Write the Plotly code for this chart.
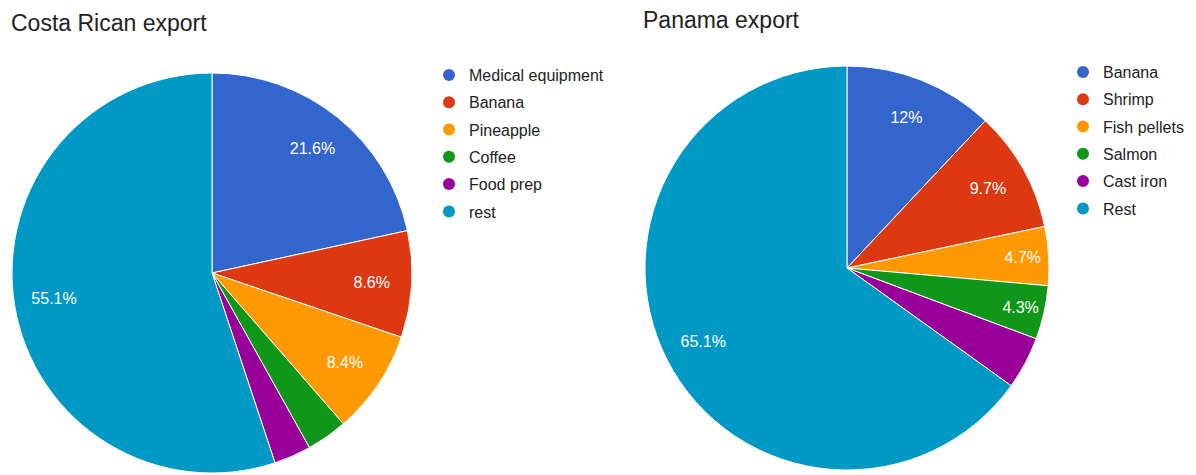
import plotly.graph_objects as go

# Export shares (percent of total exports)
cr_labels = ["Medical equipment", "Banana", "Pineapple", "Coffee", "Food prep", "rest"]
cr_values = [21.6, 8.6, 8.4, 3.3, 3.0, 55.1]

pa_labels = ["Banana", "Shrimp", "Fish pellets", "Salmon", "Cast iron", "Rest"]
pa_values = [12.0, 9.7, 4.7, 4.3, 4.2, 65.1]

palette = ["#3366cc", "#dc3912", "#ff9900", "#109618", "#990099", "#0099c6"]

W, H = 1196, 475
FONT = "Arial, Liberation Sans, sans-serif"
TEXT = "#222222"

# Slices too thin to hold a label stay unlabeled
MIN_LABEL = 4.25


def templates(values):
    return ["%{percent}" if v >= MIN_LABEL else "" for v in values]


def px_x(a, b):
    return [a / W, b / W]


def px_y(top, bottom):
    return [1 - bottom / H, 1 - top / H]


def add_pie(fig, labels, values, domain):
    # solid slices
    fig.add_trace(go.Pie(
        labels=labels, values=values, sort=False, direction="clockwise",
        rotation=0, marker=dict(colors=palette, line=dict(color="white", width=1)),
        textinfo="none", domain=domain, showlegend=False,
        hoverinfo="label+percent",
    ))
    # percentage labels, set in the outer ring of the same pie
    fig.add_trace(go.Pie(
        labels=labels, values=values, sort=False, direction="clockwise",
        rotation=0, hole=0.6,
        marker=dict(colors=["rgba(0,0,0,0)"] * len(values),
                    line=dict(width=0)),
        texttemplate=templates(values), textposition="inside",
        insidetextorientation="horizontal",
        textfont=dict(color="white", size=16, family=FONT),
        domain=domain, showlegend=False, hoverinfo="skip",
    ))


fig = go.Figure()
add_pie(fig, cr_labels, cr_values, dict(x=px_x(12, 412), y=px_y(73, 473)))
add_pie(fig, pa_labels, pa_values, dict(x=px_x(645, 1049), y=px_y(66, 470)))

# Round legend markers via empty scatter entries
for lbl, col in zip(cr_labels, palette):
    fig.add_trace(go.Scatter(
        x=[None], y=[None], mode="markers", name=lbl, legend="legend",
        legendgroup="cr_" + lbl,
        marker=dict(color=col, size=14, symbol="circle"),
    ))
for lbl, col in zip(pa_labels, palette):
    fig.add_trace(go.Scatter(
        x=[None], y=[None], mode="markers", name=lbl, legend="legend2",
        legendgroup="pa_" + lbl,
        marker=dict(color=col, size=14, symbol="circle"),
    ))

legend_style = dict(
    font=dict(family=FONT, size=16, color=TEXT), bgcolor="rgba(0,0,0,0)",
    traceorder="grouped", tracegroupgap=3.5, yanchor="top", xanchor="left",
    itemsizing="constant",
)

fig.update_layout(
    width=W, height=H,
    margin=dict(l=0, r=0, t=0, b=0),
    paper_bgcolor="white", plot_bgcolor="white",
    xaxis=dict(visible=False), yaxis=dict(visible=False),
    legend=dict(x=(469 - 40) / W, y=1 - 58 / H, **legend_style),
    legend2=dict(x=(1103 - 40) / W, y=1 - 55 / H, **legend_style),
    annotations=[
        dict(text="Costa Rican export", x=9 / W, y=1 - 8 / H, xref="paper",
             yref="paper", xanchor="left", yanchor="top", showarrow=False,
             font=dict(family=FONT, size=23, color=TEXT)),
        dict(text="Panama export", x=641 / W, y=1 - 5 / H, xref="paper",
             yref="paper", xanchor="left", yanchor="top", showarrow=False,
             font=dict(family=FONT, size=23, color=TEXT)),
    ],
)

fig.write_html("out.html")
